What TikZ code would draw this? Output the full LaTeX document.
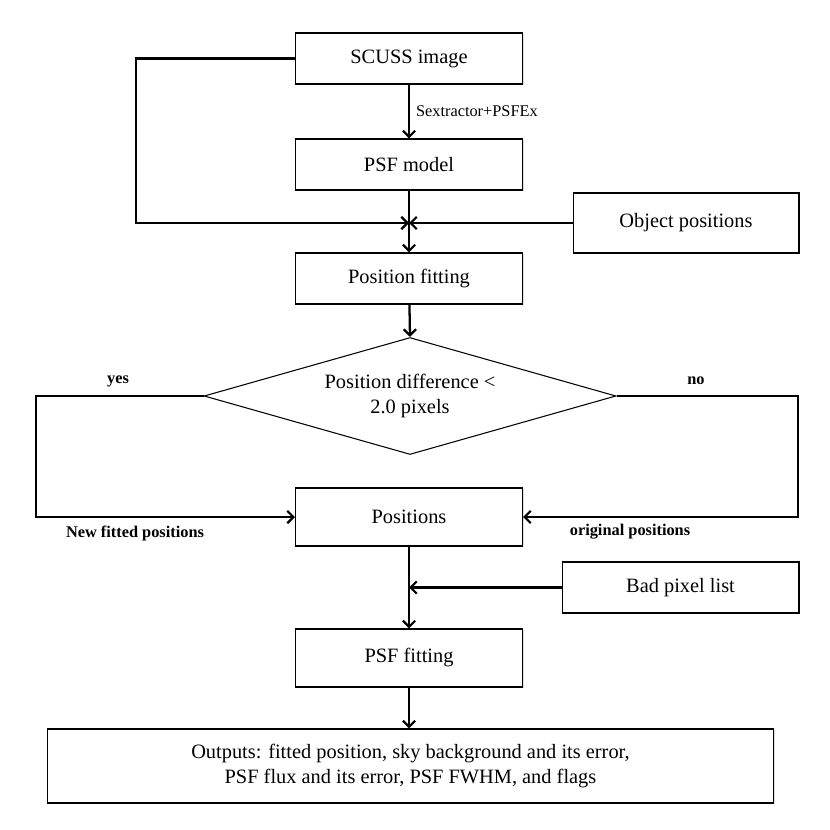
\documentclass[tikz,border=0pt]{standalone}
\usepackage{fontspec}
\setmainfont{Liberation Serif}
\usetikzlibrary{shapes.geometric,arrows.meta,shadows}

\tikzset{
  caja/.style={draw, line width=0.6pt, fill=white, inner sep=2pt,
    minimum width=4.54cm, minimum height=1.02cm,
    font=\fontsize{11.6}{14}\selectfont,
    drop shadow={shadow xshift=0.7pt, shadow yshift=-0.7pt, opacity=0.25}},
  rombo/.style={draw, diamond, line width=0.6pt, fill=white, inner sep=0pt,
    aspect=3.52, minimum width=8.24cm, minimum height=2.34cm,
    align=center, font=\fontsize{11.6}{14}\selectfont},
  flecha/.style={line width=1.3pt, -{Straight Barb[length=3.5pt,width=7pt]}},
  etiq/.style={font=\fontsize{9.3}{11}\selectfont\bfseries, inner sep=1pt},
}

\begin{document}
\begin{tikzpicture}[x=0.02cm, y=-0.02cm]
\useasboundingbox (0,0) rectangle (830,830);

% Cajas
\node[caja] (img) at (409,58.5) {SCUSS image};
\node[caja] (psf) at (409,164.5) {PSF model};
\node[caja, minimum width=4.52cm, minimum height=1.2cm] (obj) at (686,223) {Object positions};
\node[caja] (fit) at (409,278.5) {Position fitting};
\node[rombo] (dif) at (410,396) {Position difference <\\2.0 pixels};
\node[caja, minimum height=1.16cm] (pos) at (409,517) {Positions};
\node[caja, minimum width=4.74cm, minimum height=1.02cm] (bad) at (680.5,587.5) {Bad pixel list};
\node[caja, minimum height=1.16cm] (psffit) at (409,658) {PSF fitting};
\node[caja, minimum width=14.54cm, minimum height=1.48cm, align=center] (out) at (410.5,766)
  {Outputs: fitted position, sky background and its error,\\PSF flux and its error, PSF FWHM, and flags};

\coordinate (J) at (psf.south |- obj.west);
\coordinate (K) at (pos.south |- bad.west);

% Conectores
\draw[flecha] (img) -- node[right, font=\fontsize{9.3}{11}\selectfont] {Sextractor+PSFEx} (psf);
\draw[flecha] (img.west) -- (136,58.5) -- (136,223) -- (J);
\draw[flecha] (obj.west) -- (J);
\draw[flecha] (psf) -- (fit);
\draw[flecha] (fit) -- (dif.north);

\draw[flecha] (dif.west) -- (36,396) -- (36,517) -- (pos.west);
\draw[flecha] (dif.east) -- (798,396) -- (798,517) -- (pos.east);
\node[etiq] (yes) at (118,381) {yes};
\node[etiq] (no) at (696,381) {no};
\node[etiq] (nfp) at (135,533) {New fitted positions};
\node[etiq] (orp) at (630,532) {original positions};

\draw[flecha] (pos) -- (psffit);
\draw[flecha] (bad.west) -- (K);
\draw[flecha] (psffit) -- (psffit.south |- out.north);

\end{tikzpicture}
\end{document}
